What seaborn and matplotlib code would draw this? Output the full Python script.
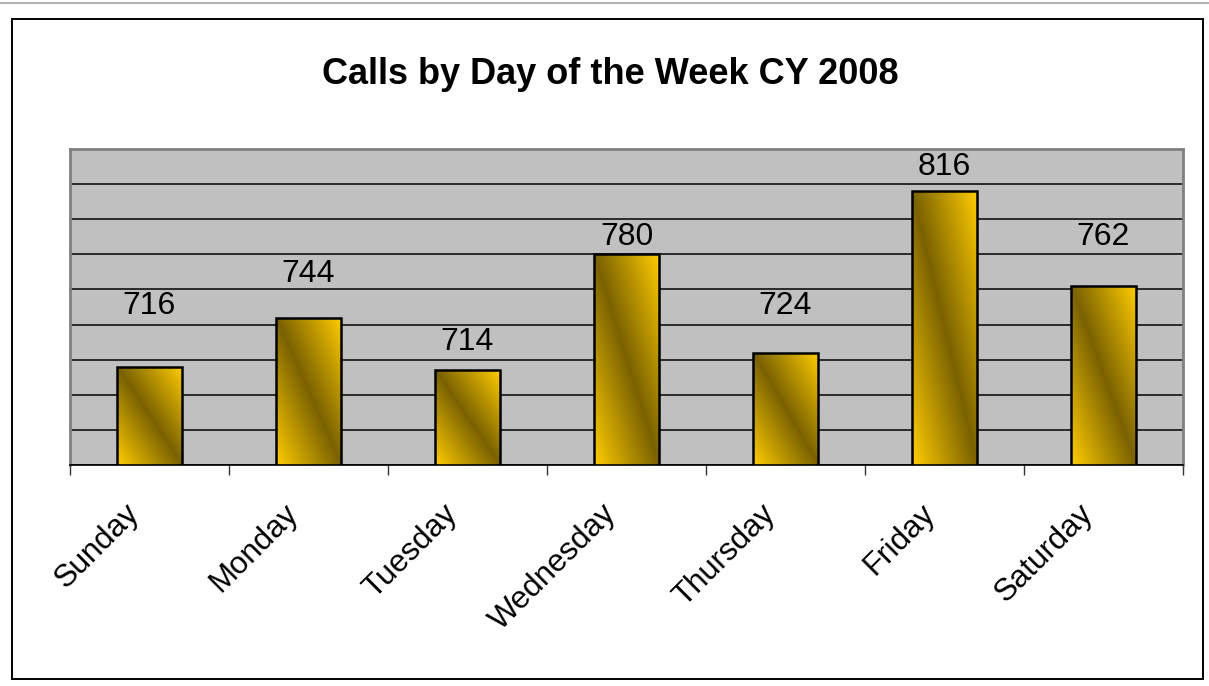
import numpy as np
import pandas as pd
import seaborn as sns
import matplotlib
matplotlib.use("Agg")
import matplotlib.pyplot as plt
from matplotlib.colors import LinearSegmentedColormap
from matplotlib.transforms import ScaledTranslation
from matplotlib.lines import Line2D
from matplotlib.patches import Rectangle

## chart data
days = ["Sunday", "Monday", "Tuesday", "Wednesday", "Thursday", "Friday", "Saturday"]
calls = [716, 744, 714, 780, 724, 816, 762]
title = "Calls by Day of the Week CY 2008"

## value axis (no labels shown, only gridlines)
y_min, y_max, y_step = 660, 840, 20

## how high each value label sits above its bar (pixels), Excel placed them unevenly
label_lift_px = [61, 44, 28, 17, 47, 24, 49]

sns.set_theme(style="white")
plt.rcParams["font.family"] = ["Liberation Sans", "DejaVu Sans"]

df = pd.DataFrame({"day": days, "calls": calls})

fig = plt.figure(figsize=(12.09, 6.86), dpi=100)
fig.patch.set_facecolor("white")
ax = fig.add_axes([70 / 1209, 1 - 465 / 686, (1183 - 70) / 1209, (465 - 149) / 686])

sns.barplot(data=df, x="day", y="calls", ax=ax, width=0.41, color="#FFCC00",
            edgecolor="black", linewidth=1.8, zorder=3)

ax.set_facecolor("#C0C0C0")
ax.set_ylim(y_min, y_max)
ax.set_xlim(-0.5, len(days) - 0.5)
ax.set_yticks(np.arange(y_min, y_max + 1, y_step))
ax.set_yticklabels([])
ax.tick_params(axis="y", length=0)
ax.yaxis.grid(True, color="#111111", linewidth=1.2, zorder=0)
ax.set_axisbelow(True)
ax.set_xlabel("")
ax.set_ylabel("")

for side in ["left", "top", "right"]:
    ax.spines[side].set_color("#808080")
    ax.spines[side].set_linewidth(2)
    ax.spines[side].set_zorder(5)
ax.spines["bottom"].set_color("black")
ax.spines["bottom"].set_linewidth(1.2)
ax.spines["bottom"].set_zorder(5)

# tick marks sit between the categories
ax.set_xticks(np.arange(-0.5, len(days), 1.0), minor=True)
ax.tick_params(axis="x", which="minor", length=7.2, width=1, color="#333333", direction="out", bottom=True)
ax.tick_params(axis="x", which="major", length=0, pad=24, labelsize=22.5, labelcolor="black")
ax.set_xticks(range(len(days)))
ax.set_xticklabels(days, rotation=45, ha="right", va="top")
shift = ScaledTranslation(-4 / 100, 0, fig.dpi_scale_trans)
for lab in ax.get_xticklabels():
    lab.set_transform(lab.get_transform() + shift)

## gold / dark gradient fill inside each bar
gold = LinearSegmentedColormap.from_list("gold", ["#FFCC00", "#7A6200", "#FFCC00"])
uu, vv = np.meshgrid(np.linspace(0, 1, 80), np.linspace(0, 1, 160))
grad = (uu + vv) / 2.0
for patch, val in zip(ax.patches, calls):
    x0 = patch.get_x()
    x1 = x0 + patch.get_width()
    im = ax.imshow(grad, cmap=gold, vmin=0, vmax=1, origin="lower",
                   extent=[x0, x1, y_min, val], aspect="auto", zorder=2,
                   interpolation="bilinear")
    im.set_clip_path(patch)
    patch.set_facecolor("none")

ax.set_xlim(-0.5, len(days) - 0.5)
ax.set_ylim(y_min, y_max)

## value labels
for i, (val, lift) in enumerate(zip(calls, label_lift_px)):
    ax.annotate(str(val), xy=(i, val), xytext=(0, lift * 0.72), textcoords="offset points",
                ha="center", va="center", fontsize=23, color="black", zorder=6)

fig.text(610 / 1209, 1 - 74 / 686, title, ha="center", va="center",
         fontsize=26, fontweight="bold", color="black")

# chart frame and the thin gray rule at the very top
fig.patches.append(Rectangle((12 / 1209, 1 - 679 / 686), (1203 - 12) / 1209, (679 - 19) / 686,
                             transform=fig.transFigure, fill=False, edgecolor="black", linewidth=1.4))
fig.lines.append(Line2D([0, 1], [1 - 3 / 686, 1 - 3 / 686], transform=fig.transFigure,
                        color="#B4B4B4", linewidth=1.5))

fig.savefig("out.png", dpi=100)
